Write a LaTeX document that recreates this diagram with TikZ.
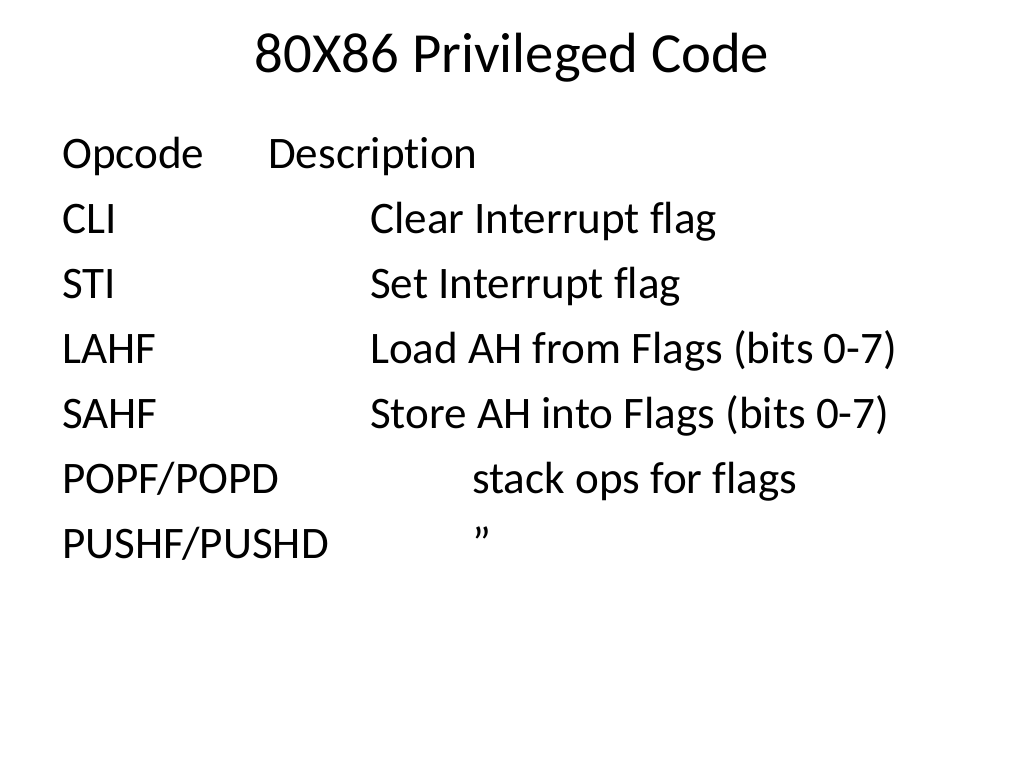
\documentclass[tikz,border=0pt]{standalone}
\usepackage{fontspec}
\setmainfont[Ligatures=CommonOff]{Carlito}
\begin{document}
\begin{tikzpicture}[x=1pt,y=-1pt,
        heading/.style={anchor=base,inner sep=0pt,font=\fontsize{56.7}{60}\selectfont},
        cell/.style={anchor=base west,inner sep=0pt,font=\fontsize{45.1}{48}\selectfont}]
        \useasboundingbox (0,0) rectangle (1024,768);
        \node[heading] (title) at (512,72) {80X86 Privileged Code};

        \node[cell] (opcode) at (62,168) {Opcode};
        \node[cell] (description) at (268,168) {Description};
        \node[cell] (cli) at (62,233) {CLI};
        \node[cell] (clidesc) at (370,233) {Clear Interrupt flag};
        \node[cell] (sti) at (62,298) {STI};
        \node[cell] (stidesc) at (370,298) {Set Interrupt flag};
        \node[cell] (lahf) at (62,363) {LAHF};
        \node[cell] (lahfdesc) at (370,363) {Load AH from Flags (bits 0-7)};
        \node[cell] (sahf) at (62,428) {SAHF};
        \node[cell] (sahfdesc) at (370,428) {Store AH into Flags (bits 0-7)};
        \node[cell] (popf) at (62,493) {POPF/POPD};
        \node[cell] (popfdesc) at (472,493) {stack ops for flags};
        \node[cell] (pushf) at (62,558) {PUSHF/PUSHD};
        \node[cell] (pushfdesc) at (472,558) {”};
    \end{tikzpicture}
\end{document}
